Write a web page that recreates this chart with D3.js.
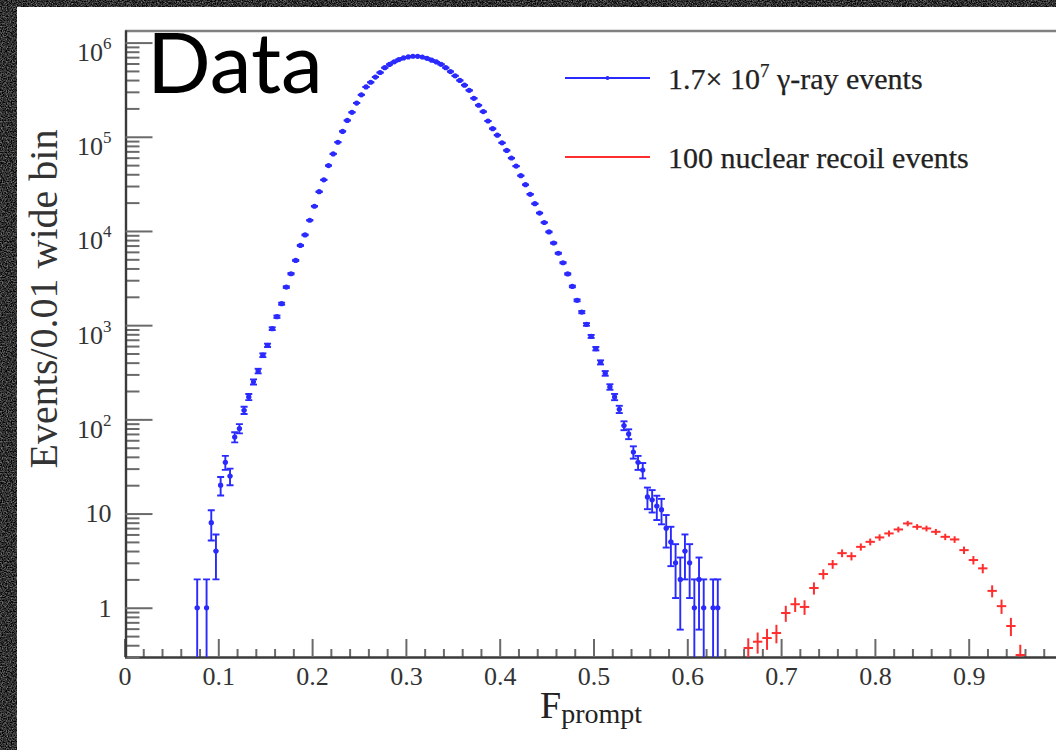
<!DOCTYPE html>
<html><head><meta charset="utf-8">
<script src="https://cdn.jsdelivr.net/npm/d3@7"></script>
<style>html,body{margin:0;padding:0;overflow:hidden;background:#2a2a2a}</style>
</head><body>
<svg id="c" width="1056" height="750"></svg>
<script>
// ---------- data ----------
const xTickValues = [0, 0.1, 0.2, 0.3, 0.4, 0.5, 0.6, 0.7, 0.8, 0.9, 1.0];
const xTickLabels = ["0", "0.1", "0.2", "0.3", "0.4", "0.5", "0.6", "0.7", "0.8", "0.9", "1"];
const yTickValues = [1, 10, 100, 1e3, 1e4, 1e5, 1e6];
const yTickBase = ["1", "10", "10", "10", "10", "10", "10"];
const yTickExp = ["", "", "2", "3", "4", "5", "6"];

// gamma-ray events (bin centres, counts)
const blueX = [0.0775,0.0875,0.0925,0.0975,0.1025,0.1075,0.1125,0.1175,0.1225,0.1275,
0.1325,0.1375,0.1425,0.1475,0.1525,0.1575,0.1625,0.1675,0.1725,0.1775,
0.1825,0.1875,0.1925,0.1975,0.2025,0.2075,0.2125,0.2175,0.2225,0.2275,
0.2325,0.2375,0.2425,0.2475,0.2525,0.2575,0.2625,0.2675,0.2725,0.2775,
0.2825,0.2875,0.2925,0.2975,0.3025,0.3075,0.3125,0.3175,0.3225,0.3275,
0.3325,0.3375,0.3425,0.3475,0.3525,0.3575,0.3625,0.3675,0.3725,0.3775,
0.3825,0.3875,0.3925,0.3975,0.4025,0.4075,0.4125,0.4175,0.4225,0.4275,
0.4325,0.4375,0.4425,0.4475,0.4525,0.4575,0.4625,0.4675,0.4725,0.4775,
0.4825,0.4875,0.4925,0.4975,0.5025,0.5075,0.5125,0.5175,0.5225,0.5275,
0.5325,0.5375,0.5425,0.5475,0.5525,0.5575,0.5625,0.5675,0.5725,0.5775,
0.5825,0.5875,0.5925,0.5975,0.6025,0.6075,0.6125,0.6175,
0.6275,0.6325];
const blueY = [1,1,8,4,20,35,25,65,80,125,
173,250,326,480,611,918,1230,1690,2535,3516,
4866,7017,9080,13000,18300,26100,34900,49500,65800,87500,
114000,149000,182000,228000,279000,338000,379000,430000,481000,541000,
586000,624000,660000,688000,705000,716000,714000,703000,681000,651000,
623000,587000,541000,492000,444000,396000,353000,311000,256000,216000,
185000,147000,122000,104000,86300,71600,59500,48800,38600,31000,
24500,19500,15500,12300,9770,7450,5800,4600,3500,2577,
1834,1376,1019,760,563,403,308,221,173,128,
86,70,45,35,29,15,14,12,11,7,
5,3,2,4,3,1,2,1,
1,1];

// nuclear recoil events
const redX = [0.665,0.675,0.685,0.695,0.705,0.715,0.725,0.735,0.745,0.755,
0.765,0.775,0.785,0.795,0.805,0.815,0.825,0.835,0.845,0.855,
0.865,0.875,0.885,0.895,0.905,0.915,0.925,0.935,0.945,0.955];
const redY = [0.374,0.436,0.477,0.539,0.879,1.09,1.02,1.62,2.28,2.90,
3.80,3.53,4.43,5.01,5.58,6.15,6.78,7.85,7.23,6.95,
6.40,5.66,5.31,4.09,3.21,2.62,1.51,1.04,0.64,0.315];
const redErr = [0.10,0.11,0.12,0.12,0.17,0.19,0.18,0.24,0.28,0.31,
0.36,0.35,0.39,0.42,0.44,0.46,0.48,0.52,0.50,0.49,
0.47,0.44,0.43,0.37,0.33,0.30,0.22,0.18,0.14,0.09];

const legendSeries = ["gamma", "recoil"];
const legendColors = ["#2a2aff", "#ff2e2e"];

// ---------- drawing ----------
const svg = d3.select("#c");
const defs = svg.append("defs");
const f = defs.append("filter").attr("id", "granite").attr("x", 0).attr("y", 0)
  .attr("width", "100%").attr("height", "100%").attr("color-interpolation-filters", "sRGB");
f.append("feTurbulence").attr("type", "fractalNoise").attr("baseFrequency", 0.8).attr("numOctaves", 3).attr("seed", 7);
f.append("feColorMatrix").attr("type", "matrix")
  .attr("values", "0.9 0 0 0 -0.26  0.9 0 0 0 -0.26  0.9 0 0 0 -0.26  0 0 0 0 1");

svg.append("rect").attr("width", 1056).attr("height", 750).attr("fill", "#1e1e1e");
svg.append("rect").attr("width", 1056).attr("height", 750).attr("filter", "url(#granite)");
svg.append("rect").attr("x", 17).attr("y", 7).attr("width", 1060).attr("height", 760).attr("fill", "#ffffff");

const x = d3.scaleLinear().domain([0, 1]).range([124.5, 1062.5]);
const y = d3.scaleLog().domain([0.3, 1.36e6]).range([657, 30]);

const serif = "'Liberation Serif','Times New Roman',serif";

defs.append("clipPath").attr("id", "plotclip").append("rect")
  .attr("x", x(0) + 1).attr("y", 30).attr("width", 1000).attr("height", 627);

// top frame
const topAx = svg.append("g").attr("transform", "translate(0,30.5)")
  .call(d3.axisTop(x).tickValues([]).tickSizeOuter(0));
topAx.select(".domain").attr("stroke", "#808080").attr("stroke-width", 2.6);

// x minor ticks
const xMinor = d3.range(0, 1.0001, 0.02).filter(v => Math.abs(v * 10 - Math.round(v * 10)) > 1e-6);
const xMin = svg.append("g").attr("transform", "translate(0,657)")
  .call(d3.axisBottom(x).tickValues(xMinor).tickSize(-8).tickSizeOuter(0).tickFormat(""));
xMin.select(".domain").remove();
xMin.selectAll("line").attr("stroke", "#6a6a6a").attr("stroke-width", 2);

// x major
const xAx = svg.append("g").attr("transform", "translate(0,657)")
  .call(d3.axisBottom(x).tickValues(xTickValues).tickSize(-18).tickSizeOuter(0).tickPadding(10)
    .tickFormat((d, i) => i < 10 ? xTickLabels[i] : ""));
xAx.select(".domain").attr("stroke", "#3a3a3a").attr("stroke-width", 2.4);
xAx.selectAll("line").attr("stroke", "#6a6a6a").attr("stroke-width", 2);
xAx.selectAll("text").attr("font-family", serif).attr("font-size", 26).attr("fill", "#333");

// y minor ticks
const yMinor = [];
[0.1, 1, 10, 100, 1e3, 1e4, 1e5, 1e6].forEach(dec => {
  for (let m = 2; m <= 9; m++) { const v = m * dec; if (v >= 0.3 && v <= 1.36e6) yMinor.push(v); }
});
const yMin = svg.append("g").attr("transform", "translate(125.5,0)")
  .call(d3.axisLeft(y).tickValues(yMinor).tickSize(-14).tickSizeOuter(0).tickFormat(""));
yMin.select(".domain").remove();
yMin.selectAll("line").attr("stroke", "#6a6a6a").attr("stroke-width", 2);

const yAx = svg.append("g").attr("transform", "translate(125.5,0)")
  .call(d3.axisLeft(y).tickValues(yTickValues).tickSize(-27).tickSizeOuter(0).tickPadding(14).tickFormat(""));
yAx.select(".domain").attr("stroke", "#3a3a3a").attr("stroke-width", 2.4);
yAx.selectAll("line").attr("stroke", "#6a6a6a").attr("stroke-width", 2);
yAx.selectAll("text").each(function (d, i) {
  const t = d3.select(this).attr("font-family", serif).attr("font-size", 26).attr("fill", "#333");
  t.text(null);
  t.append("tspan").text(yTickBase[i]);
  if (yTickExp[i]) {
    t.attr("dy", null).attr("y", 18);
    t.append("tspan").attr("dy", -12).attr("font-size", 17).text(yTickExp[i]);
  }
});

// axis titles
svg.append("text").attr("transform", "translate(57,299) rotate(-90)")
  .attr("text-anchor", "middle").attr("font-family", serif).attr("font-size", 40).attr("fill", "#333")
  .text("Events/0.01 wide bin");
const xt = svg.append("text").attr("x", 540).attr("y", 718).attr("font-family", serif).attr("fill", "#222");
xt.append("tspan").attr("font-size", 38).text("F");
xt.append("tspan").attr("font-size", 28).attr("dy", 5).text("prompt");

// data
const plot = svg.append("g").attr("clip-path", "url(#plotclip)");
const bottomY = y.range()[0] + 10;

const blue = plot.append("g").attr("stroke", legendColors[0]).attr("stroke-width", 1.9).attr("fill", legendColors[0]);
blueX.forEach((cx, i) => {
  const v = blueY[i], e = Math.sqrt(v);
  const px = x(cx), py = y(v);
  const up = y(v + e), lo = v - e > 0 ? y(v - e) : bottomY;
  const g = blue.append("g");
  g.append("line").attr("x1", px).attr("x2", px).attr("y1", up).attr("y2", lo);
  g.append("line").attr("x1", x(cx - 0.0025)).attr("x2", x(cx + 0.0025)).attr("y1", py).attr("y2", py);
  g.append("line").attr("x1", px - 3.5).attr("x2", px + 3.5).attr("y1", up).attr("y2", up);
  if (v - e > 0) g.append("line").attr("x1", px - 3.5).attr("x2", px + 3.5).attr("y1", lo).attr("y2", lo);
  g.append("circle").attr("cx", px).attr("cy", py).attr("r", 2.6).attr("stroke", "none");
});

const red = plot.append("g").attr("stroke", legendColors[1]).attr("stroke-width", 2);
redX.forEach((cx, i) => {
  const v = redY[i], e = redErr[i];
  const px = x(cx), py = y(v);
  red.append("line").attr("x1", px).attr("x2", px).attr("y1", y(v + e)).attr("y2", y(v - e));
  red.append("line").attr("x1", x(cx - 0.005)).attr("x2", x(cx + 0.005)).attr("y1", py).attr("y2", py);
});

// "Data" label
svg.append("text").attr("x", 147).attr("y", 93).attr("font-family", "Lato, 'Open Sans', sans-serif")
  .attr("font-size", 84).attr("font-weight", 400).attr("fill", "#000")
  .text("Data");

// legend
const legY = [78, 157];
legendSeries.forEach((s, i) => {
  svg.append("line").attr("x1", 565).attr("x2", 650).attr("y1", legY[i]).attr("y2", legY[i])
    .attr("stroke", legendColors[i]).attr("stroke-width", 1.8);
});
svg.append("circle").attr("cx", 607.5).attr("cy", legY[0]).attr("r", 2).attr("fill", legendColors[0]);

const t1 = svg.append("text").attr("x", 668).attr("y", legY[0] + 11).attr("font-family", serif)
  .attr("font-size", 30).attr("fill", "#222").attr("stroke", "#222").attr("stroke-width", 0.25);
t1.append("tspan").text("1.7× 10");
t1.append("tspan").attr("dy", -12).attr("font-size", 19).text("7");
t1.append("tspan").attr("dy", 12).text(" γ-ray events");
svg.append("text").attr("x", 668).attr("y", legY[1] + 11).attr("font-family", serif)
  .attr("font-size", 30).attr("fill", "#222").attr("stroke", "#222").attr("stroke-width", 0.25)
  .text("100 nuclear recoil events");
</script>
</body></html>
